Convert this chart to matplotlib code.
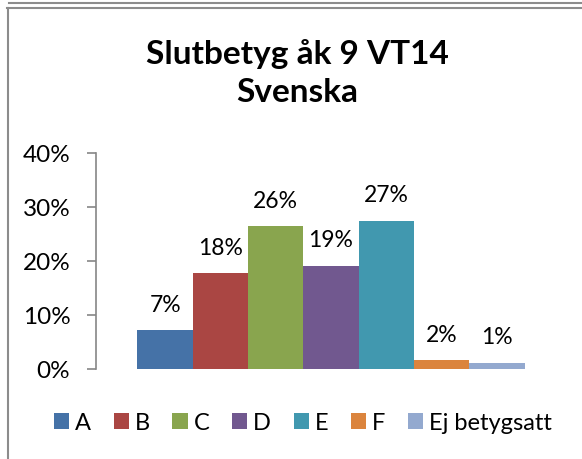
import matplotlib.pyplot as plt
from matplotlib.lines import Line2D
from matplotlib.patches import Patch

# Data
grades = ['A', 'B', 'C', 'D', 'E', 'F', 'Ej betygsatt']
shares = [0.072, 0.177, 0.264, 0.191, 0.275, 0.016, 0.012]
labels = ['7%', '18%', '26%', '19%', '27%', '2%', '1%']
colors = ['#4572A7', '#AA4643', '#89A54E', '#71588F', '#4198AF', '#DB843D', '#93A9CF']
yticks = [0, 0.1, 0.2, 0.3, 0.4]
ytick_labels = ['0%', '10%', '20%', '30%', '40%']

plt.rcParams['font.family'] = ['Lato', 'DejaVu Sans']

W, H = 582, 459
fig = plt.figure(figsize=(W / 100, H / 100), dpi=100)

# Axes placed in pixel coords
left, right, top, bottom = 96, 566, 153, 369
ax = fig.add_axes([left / W, (H - bottom) / H, (right - left) / W, (bottom - top) / H])

x = list(range(len(grades)))
ax.bar(x, shares, width=1.0, color=colors)
for xi, v, lab in zip(x, shares, labels):
    ax.annotate(lab, (xi, v), xytext=(0, 18), textcoords='offset points',
                ha='center', va='center', fontsize=16.5)

ax.set_xlim(-1.25, 7.25)
ax.set_ylim(0, 0.4)
ax.set_yticks(yticks)
ax.set_yticklabels(ytick_labels, fontsize=17.5)
ax.set_xticks([])
for s in ['top', 'right', 'bottom']:
    ax.spines[s].set_visible(False)
ax.spines['left'].set_color('#868686')
ax.spines['left'].set_linewidth(1.2)
ax.tick_params(axis='y', length=6.5, width=1.2, color='#868686', pad=12)

# Title (two lines)
fig.text(297 / W, 1 - 54 / H, 'Slutbetyg åk 9 VT14', ha='center', va='center',
         fontsize=24, fontweight='bold')
fig.text(297 / W, 1 - 93 / H, 'Svenska', ha='center', va='center',
         fontsize=24, fontweight='bold')

# Legend
handles = [Patch(facecolor=c) for c in colors]
fig.legend(handles, grades, loc='center', bbox_to_anchor=(303 / W, 1 - 423 / H),
           ncol=7, frameon=False, fontsize=17, handlelength=0.65, handleheight=0.65,
           handletextpad=0.25, columnspacing=0.95, borderpad=0)

# Frame lines
gray = '#8C8C8C'
fig.add_artist(Line2D([9 / W, 1], [1 - 2.5 / H, 1 - 2.5 / H], color=gray, lw=1.5))
fig.add_artist(Line2D([7 / W, 1], [1 - 7.5 / H, 1 - 7.5 / H], color=gray, lw=1.5))
fig.add_artist(Line2D([7.5 / W, 7.5 / W], [0, 1 - 7.5 / H], color=gray, lw=1.5))

fig.savefig('out.png', dpi=100)
